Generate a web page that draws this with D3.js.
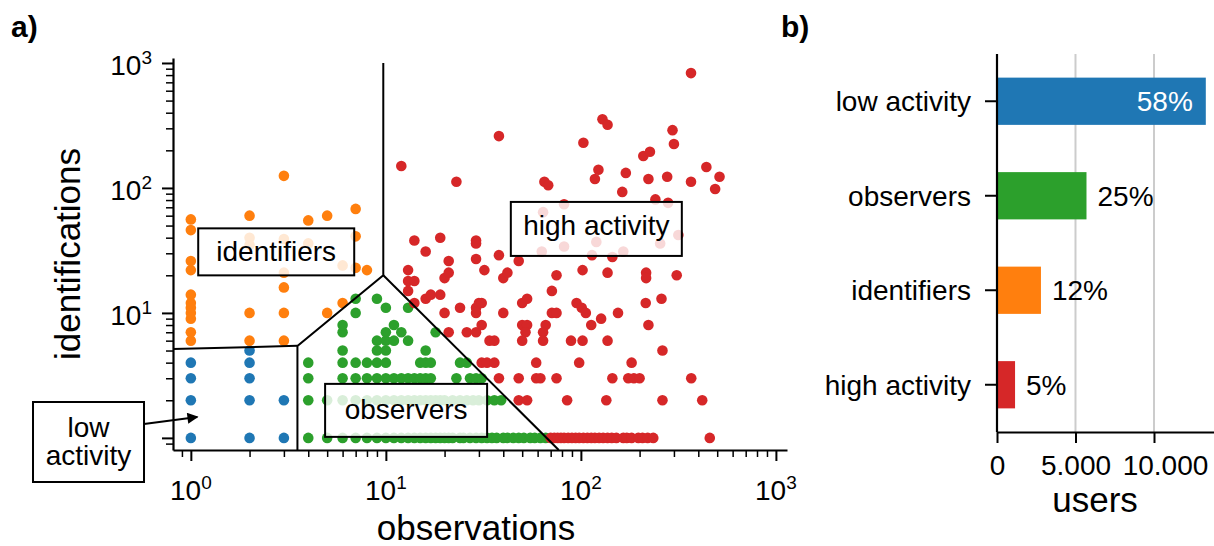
<!DOCTYPE html>
<html><head><meta charset="utf-8">
<script src="https://cdn.jsdelivr.net/npm/d3@7"></script>
<style>
body{margin:0;background:#fff}
svg{display:block}
text{font-family:"Liberation Sans",Arial,Helvetica,sans-serif;fill:#000}
</style></head><body>
<svg id="chart" width="1214" height="546"></svg>
<script>
// ---------------- data ----------------
const lowActivity = [[1,1],[1,2],[1,3],[1,4],[2,1],[2,2],[2,3],[2,4],[2,5],[3,1],[3,2]];
const identifiers = [[1,6],[1,7],[1,9],[1,10],[1,11],[1,12],[1,14],[1,22],[1,26],[1,46],[1,56],
  [2,6],[2,10],[2,35],[2,40],[2,60],
  [3,6],[3,10],[3,16],[3,21],[3,39],[3,125],
  [4,36],[4,55],[5,10],[5,60],[6,12],[6,24],[7,23],[7,41],[7,68],[8,22]];
const observersY1 = [4,5,6,7,8,9,10,11,12,13,14,15,16,17,18,19,20,21,22,24,25,27,29,31,33,35,37,40,42,45,48,51,55,58,62,66];
const observersY2 = [4,5,6,7,8,9,10,11,12,13,14,15,16,17,18,19,20,22,24,26,28,30,33,36,39];
const observersY3 = [4,6,7,8,9,10,11,12,13,14,15,16,17,23,27,29,31];
const observersY4 = [4,6,7,8,9,10,15,16,17,24,26];
const observersUpper = [[6,5],[9,5],[10,5],[16,5],[9,6],[10,6],[11,6],[13,6],[6,7],[10,7],[12,7],[18,7],
  [6,8],[11,8],[7,10],[10,11],[13,11],[7,13],[9,13]];
const highActivityY1 = [70,73,76,79,82,86,90,94,98,103,108,113,118,124,130,137,144,152,165,172,182,197,207,220,235,458];
const highActivity = [[12,150],[23,112],[38,260],[65,112],[68,105],[103,230],[129,355],[137,320],[118,118],[123,140],
  [170,132],[163,93],[209,180],[226,195],[222,118],[241,81],[277,123],[295,290],[300,225],[367,830],[367,112],
  [440,147],[514,123],[488,98],[64,64],[82,74],[63,31],[82,34],[120,37],[114,29],[145,28],[165,31],[255,36],
  [280,76],[316,42],[14,38],[19,40],[29,38],[29,36],[16,31],[21,26],[29,27],[38,29],[48,26],
  [13,22],[13,18],[14,18],[20,19],[21,21],[32,22],[40,19],[42,21],[75,20],[102,22],[137,21],[216,21],[216,19],[310,20],
  [13,15],[16,13],[17,14],[19,14],[24,11],[20,10],[29,11],[30,12],[31,12],[29,10],[40,10],[50,12],[53,13],
  [71,15],[71,10],[75,10],[95,12],[101,11],[106,10],[14,12],[113,8],[127,9],[155,10],[215,12],[259,13],[222,8],
  [21,7],[26,7],[29,7],[31,8],[34,6],[36,6],[50,8],[53,8],[52,7],[50,6],[66,8],[64,7],[64,6],[89,6],[102,6],
  [137,6],[262,5],[31,4],[33,4],[36,4],[59,4],[98,4],[182,4],
  [38,3],[48,3],[59,3],[62,3],[75,3],[145,3],[175,3],[187,3],[200,3],[368,3],
  [48,2],[53,2],[85,2],[135,2],[262,2],[419,2]];
// region boundaries (data coords)
const boundaryLeft = [[0.81,5.15],[3.52,5.45]];
const boundaryMid = [[3.52,0.8],[3.52,5.45],[9.7,20],[9.7,1000]];
const boundaryDiag = [[9.7,20],[77,0.8]];
const logMajors = [1,10,100,1000];
const logExponents = ["0","1","2","3"];
const yLabelled = [10,100,1000];

const barCategories = ["low activity","observers","identifiers","high activity"];
const barUsers = [13300,5700,2800,1150];
const barPercents = ["58%","25%","12%","5%"];
const barTicks = [0,5000,10000];
const barTickLabels = ["0","5.000","10.000"];

const colors = {low:"#1f77b4", obs:"#2ca02c", ide:"#ff7f0e", high:"#d62728"};
const barColors = [colors.low, colors.obs, colors.ide, colors.high];

// ---------------- build point table ----------------
const points = [];
lowActivity.forEach(d=>points.push({x:d[0],y:d[1],c:colors.low}));
identifiers.forEach(d=>points.push({x:d[0],y:d[1],c:colors.ide}));
observersY1.forEach(v=>points.push({x:v,y:1,c:colors.obs}));
observersY2.forEach(v=>points.push({x:v,y:2,c:colors.obs}));
observersY3.forEach(v=>points.push({x:v,y:3,c:colors.obs}));
observersY4.forEach(v=>points.push({x:v,y:4,c:colors.obs}));
observersUpper.forEach(d=>points.push({x:d[0],y:d[1],c:colors.obs}));
highActivityY1.forEach(v=>points.push({x:v,y:1,c:colors.high}));
highActivity.forEach(d=>points.push({x:d[0],y:d[1],c:colors.high}));

const svg = d3.select("#chart");
const FS = 28;

// ---------------- panel a ----------------
const x = d3.scaleLog().domain([0.81,1140]).range([173,787]);
const y = d3.scaleLog().domain([0.8,1096]).range([450,58]);

const minors = [];
[0.1,1,10,100].forEach(b=>{for(let k=2;k<=9;k++){const v=b*k; if(v>=0.81 && v<=1140) minors.push(v);}});

svg.append("g").selectAll("circle").data(points).join("circle")
  .attr("cx",d=>x(d.x)).attr("cy",d=>y(d.y)).attr("r",5.3).attr("fill",d=>d.c);

const line = d3.line().x(d=>x(d[0])).y(d=>y(d[1]));
[boundaryLeft,boundaryMid,boundaryDiag].forEach(b=>{
  svg.append("path").attr("d",line(b)).attr("fill","none").attr("stroke","#000").attr("stroke-width",2);
});

function styleAxis(g,w){
  g.select(".domain").attr("stroke-width",2.2);
  g.selectAll(".tick line").attr("stroke-width",w);
}
const gx = svg.append("g").attr("transform","translate(0,450)")
  .call(d3.axisBottom(x).tickValues(logMajors).tickSize(11).tickSizeOuter(0).tickFormat(""));
styleAxis(gx,2);
const gxm = svg.append("g").attr("transform","translate(0,450)")
  .call(d3.axisBottom(x).tickValues(minors).tickSize(7).tickSizeOuter(0).tickFormat(""));
gxm.select(".domain").remove(); gxm.selectAll(".tick line").attr("stroke-width",1.5);

const gy = svg.append("g").attr("transform","translate(173,0)")
  .call(d3.axisLeft(y).tickValues(logMajors).tickSize(11).tickSizeOuter(0).tickFormat(""));
styleAxis(gy,2);
const gym = svg.append("g").attr("transform","translate(173,0)")
  .call(d3.axisLeft(y).tickValues(minors.filter(v=>v>=0.8&&v<=1096)).tickSize(7).tickSizeOuter(0).tickFormat(""));
gym.select(".domain").remove(); gym.selectAll(".tick line").attr("stroke-width",1.5);

logMajors.forEach((v,i)=>{
  const t = svg.append("text").attr("x",x(v)).attr("y",500).attr("text-anchor","middle").attr("font-size",FS);
  t.append("tspan").text("10");
  t.append("tspan").attr("dy",-11).attr("font-size",19).text(logExponents[i]);
  if (yLabelled.includes(v)) {
    const t2 = svg.append("text").attr("x",152).attr("y",y(v)+12).attr("text-anchor","end").attr("font-size",FS);
    t2.append("tspan").text("10");
    t2.append("tspan").attr("dy",-11).attr("font-size",19).text(logExponents[i]);
  }
});

svg.append("text").attr("x",476).attr("y",540).attr("text-anchor","middle").attr("font-size",35).text("observations");
svg.append("text").attr("transform","translate(80,254) rotate(-90)").attr("text-anchor","middle").attr("font-size",35).text("identifications");

// annotation boxes
const notes = [
  {lines:["identifiers"], cx:2.74, cy:30.8, w:156, h:47, base:[9.5]},
  {lines:["high activity"], cx:120, cy:47, w:171, h:54, base:[6.5]},
  {lines:["observers"], cx:12.7, cy:1.66, w:162, h:53, base:[9]},
  {lines:["low","activity"], cx:0.2987, cy:0.927, w:111, h:80, base:[-5,23]}
];
notes.forEach(n=>{
  const px=x(n.cx), py=y(n.cy);
  svg.append("rect").attr("x",px-n.w/2).attr("y",py-n.h/2).attr("width",n.w).attr("height",n.h)
    .attr("fill","#fff").attr("fill-opacity",0.82).attr("stroke","#000").attr("stroke-width",2);
  n.lines.forEach((s,i)=>{
    svg.append("text").attr("x",px).attr("y",py+n.base[i]).attr("text-anchor","middle").attr("font-size",FS).text(s);
  });
});
// arrow
svg.append("defs").append("marker").attr("id","ah").attr("viewBox","0 0 10 10").attr("refX",9).attr("refY",5)
  .attr("markerWidth",6.5).attr("markerHeight",5.5).attr("orient","auto-start-reverse")
  .append("path").attr("d","M0,0L10,5L0,10z").attr("fill","#000");
const arrowFrom=[0.575,1.29], arrowTo=[1.08,1.47];
svg.append("line").attr("x1",x(arrowFrom[0])).attr("y1",y(arrowFrom[1])).attr("x2",x(arrowTo[0])).attr("y2",y(arrowTo[1]))
  .attr("stroke","#000").attr("stroke-width",2).attr("marker-end","url(#ah)");

svg.append("text").attr("x",11).attr("y",37).attr("font-size",30).attr("font-weight","bold").text("a)");

// ---------------- panel b ----------------
const xb = d3.scaleLinear().domain([0,13822]).range([997,1214]);
const yb = d3.scaleBand().domain(barCategories).range([54,432]).paddingInner(0.5).paddingOuter(0.25);

svg.append("g").selectAll("line").data(barTicks.slice(1)).join("line")
  .attr("x1",d=>xb(d)).attr("x2",d=>xb(d)).attr("y1",54).attr("y2",432)
  .attr("stroke","#cccccc").attr("stroke-width",2);

svg.append("g").selectAll("rect").data(barCategories).join("rect")
  .attr("x",xb(0)).attr("y",d=>yb(d)).attr("width",(d,i)=>xb(barUsers[i])-xb(0)).attr("height",yb.bandwidth())
  .attr("fill",(d,i)=>barColors[i]);

barCategories.forEach((c,i)=>{
  const inside = i===0;
  svg.append("text").attr("x", inside? xb(barUsers[i])-13 : xb(barUsers[i])+11)
    .attr("y", yb(c)+yb.bandwidth()/2+10).attr("text-anchor", inside?"end":"start")
    .attr("font-size",FS).style("fill", inside?"#fff":"#000").text(barPercents[i]);
});

const gbx = svg.append("g").attr("transform","translate(0,432)")
  .call(d3.axisBottom(xb).tickValues(barTicks).tickSize(11).tickSizeOuter(0).tickFormat((d,i)=>barTickLabels[i]));
styleAxis(gbx,2);
gbx.selectAll(".tick text").attr("font-size",FS).attr("font-family",null).attr("dy",null).attr("y",43)
  .attr("x",(d,i)=> i===2 ? 11 : 0);

const gby = svg.append("g").attr("transform","translate(997,0)")
  .call(d3.axisLeft(yb).tickSize(12).tickSizeOuter(0));
styleAxis(gby,2);
gby.selectAll(".tick text").attr("font-size",FS).attr("font-family",null).attr("x",-26).attr("dy","0.35em");
gby.select(".domain").attr("d","M0,54V432");

svg.append("text").attr("x",1095).attr("y",512).attr("text-anchor","middle").attr("font-size",35).text("users");
svg.append("text").attr("x",781).attr("y",37).attr("font-size",30).attr("font-weight","bold").text("b)");
</script>
</body></html>
